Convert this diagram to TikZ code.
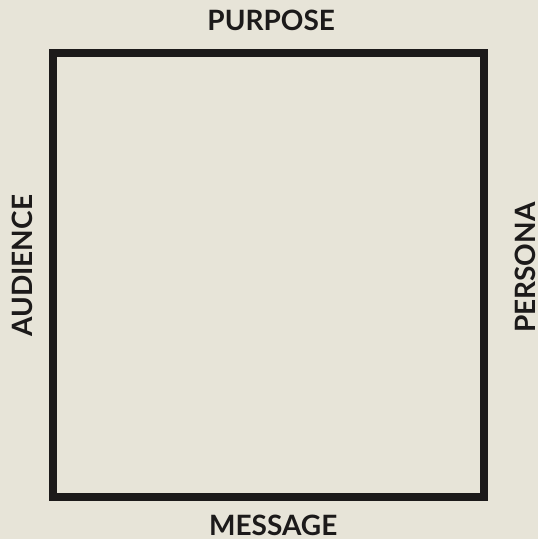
\documentclass[tikz,border=0pt]{standalone}
\usepackage{fontspec}
\setmainfont{Lato}
\usetikzlibrary{positioning}
\definecolor{paper}{HTML}{E7E4D8}
\definecolor{ink}{HTML}{1C1A1A}
\tikzset{
    frame/.style = {
        rectangle, draw=ink,
        line width=8pt,
        minimum width=431.5pt,
        minimum height=444.5pt,
        inner sep=0pt
    },
    side/.style = {
        text=ink, inner sep=0pt,
        font=\fontsize{28}{28}\selectfont\bfseries
    }
}
\begin{document}
\begin{tikzpicture}[x=1pt, y=-1pt]

\fill [paper] (0,0) rectangle (538,539);
\useasboundingbox (0,0) rectangle (538,539);

\node (square) [frame] at (268.25,274.75) {};
\node (purpose) [side, above=18pt of square.north, xshift=3pt] {PURPOSE};
\node (message) [side, below=14pt of square.south, xshift=5pt] {MESSAGE};
\node (audience) [side, rotate=90, anchor=south] at ([xshift=-16pt, yshift=9pt]square.west) {AUDIENCE};
\node (persona) [side, rotate=90, anchor=north] at ([xshift=27pt, yshift=7pt]square.east) {PERSONA};

\end{tikzpicture}
\end{document}
